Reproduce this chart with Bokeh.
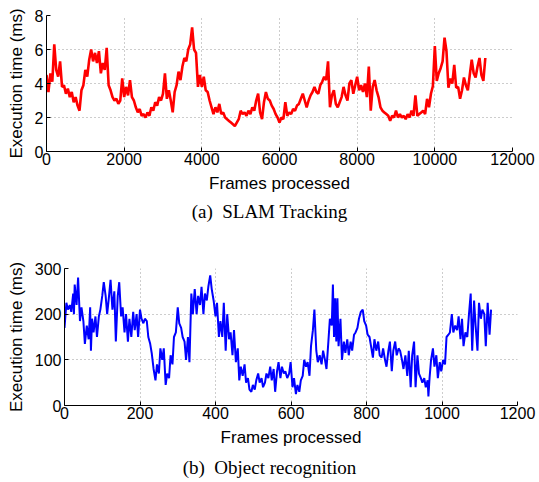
from bokeh.plotting import figure
from bokeh.models import Range1d, FixedTicker, Div
from bokeh.embed import file_html
from bokeh.resources import INLINE

# (a) SLAM tracking: execution time (ms), one reading every 50 frames
slam_ms = [
    4.5, 3.5, 4.6, 4.1, 6.3, 4.8, 4.4, 5.3, 3.8, 3.9,
    3.4, 3.7, 3.2, 3.5, 2.9, 3.2, 2.7, 2.4, 3.6, 3.9,
    4.8, 4.4, 5.4, 6.0, 5.3, 5.8, 5.2, 5.9, 4.6, 5.2,
    4.8, 6.1, 3.9, 3.6, 3.2, 3.0, 3.1, 2.8, 3.0, 4.3,
    3.2, 3.8, 3.3, 4.2, 3.2, 3.0, 2.6, 2.3, 2.5, 2.1,
    2.2, 2.0, 2.3, 2.1, 2.6, 2.4, 2.9, 2.7, 3.2, 3.0,
    3.4, 4.6, 3.1, 3.6, 3.0, 2.3, 3.5, 3.9, 4.7, 4.2,
    5.0, 5.5, 5.3, 6.0, 6.3, 7.3, 6.0, 5.8, 3.8, 4.5,
    3.8, 4.4, 3.6, 3.5, 3.0, 2.6, 2.2, 2.6, 2.3, 2.8,
    2.2, 2.3, 2.0, 1.9, 1.8, 1.7, 1.6, 1.5, 1.7, 1.9,
    2.4, 2.2, 2.3, 2.1, 2.4, 2.2, 2.6, 2.4, 3.0, 3.4,
    2.3, 1.9, 2.9, 3.5, 3.1, 3.0, 2.7, 2.5, 2.2, 2.0,
    1.7, 2.0, 1.9, 2.9, 2.1, 2.3, 2.2, 2.5, 2.4, 2.7,
    2.8, 3.1, 3.4, 3.0, 2.6, 3.0, 3.3, 3.5, 3.8, 3.5,
    3.4, 3.9, 4.1, 4.4, 4.2, 5.3, 2.6, 3.3, 3.6, 2.8,
    2.6, 2.9, 3.2, 3.8, 3.3, 3.0, 4.0, 4.2, 3.4, 3.9,
    4.4, 3.6, 3.9, 3.5, 4.0, 3.2, 5.0, 2.4, 3.8, 4.2,
    3.6, 3.2, 2.6, 2.4, 2.3, 2.2, 2.1, 1.8, 2.1, 2.0,
    2.4, 2.0, 2.2, 2.0, 2.1, 1.9, 2.2, 2.0, 2.4, 2.1,
    3.3, 2.1, 2.2, 2.3, 2.4, 2.2, 3.1, 2.6, 3.4, 3.85,
    6.2, 4.15, 4.6, 4.9, 5.3, 6.7, 5.9, 3.75, 4.3, 4.0,
    5.1, 3.75, 3.8, 3.1, 3.6, 4.35, 3.9, 3.6, 4.5, 5.4,
    4.6, 4.35, 5.0, 5.5, 4.5, 4.15, 5.5,
]
slam_frames = [50 * i for i in range(len(slam_ms))]

# (b) Object recognition: frame index and execution time (ms)
obj_frames = [
    0, 5, 9, 14, 18, 23, 25, 27, 32, 36, 41, 45, 50, 54, 59, 64, 68, 70, 73, 77,
    82, 86, 91, 95, 100, 104, 109, 113, 118, 122, 127, 132, 136, 141, 145, 150, 154, 159, 163, 168,
    172, 177, 182, 186, 191, 195, 200, 204, 209, 213, 218, 222, 227, 231, 236, 241, 245, 250, 254, 259,
    263, 268, 272, 277, 281, 286, 290, 295, 300, 304, 309, 313, 318, 322, 327, 331, 336, 340, 345, 350,
    354, 359, 363, 368, 372, 377, 381, 386, 390, 395, 400, 404, 409, 413, 418, 422, 427, 431, 436, 440,
    445, 449, 454, 459, 463, 467, 472, 477, 481, 486, 490, 495, 499, 504, 508, 513, 517, 522, 526, 531,
    535, 540, 545, 549, 554, 558, 563, 567, 572, 576, 581, 585, 590, 595, 599, 604, 608, 613, 617, 622,
    626, 631, 635, 640, 644, 649, 653, 658, 662, 667, 671, 676, 681, 685, 690, 694, 699, 703, 708, 711,
    714, 717, 720, 723, 726, 731, 735, 740, 744, 749, 753, 758, 762, 767, 771, 776, 780, 785, 790, 794,
    799, 803, 808, 812, 817, 821, 826, 831, 835, 840, 844, 849, 853, 858, 862, 867, 871, 876, 880, 885,
    889, 894, 898, 903, 908, 912, 917, 921, 926, 930, 935, 939, 944, 948, 953, 957, 962, 964, 967, 971,
    976, 980, 985, 989, 994, 998, 1003, 1008, 1012, 1017, 1021, 1026, 1030, 1035, 1040, 1044, 1049, 1053, 1057, 1062,
    1067, 1071, 1076, 1080, 1085, 1089, 1094, 1098, 1103, 1107, 1112, 1116, 1121, 1126, 1130,
]
obj_ms = [
    170, 225, 210, 220, 205, 245, 200, 265, 220, 280, 185, 215, 185, 135, 175, 145, 215, 120, 190, 160,
    195, 150, 195, 210, 240, 270, 240, 200, 240, 275, 210, 250, 140, 240, 270, 195, 215, 160, 200, 140,
    190, 150, 205, 165, 200, 150, 210, 190, 180, 190, 185, 150, 135, 115, 80, 55, 90, 70, 125, 100,
    125, 45, 70, 60, 110, 90, 150, 160, 215, 180, 170, 150, 140, 100, 150, 95, 245, 200, 255, 200,
    240, 220, 260, 200, 245, 230, 260, 285, 255, 230, 195, 225, 150, 185, 150, 225, 120, 200, 145, 160,
    110, 165, 95, 125, 55, 85, 65, 90, 50, 60, 35, 30, 45, 35, 55, 70, 50, 60, 40, 50,
    70, 60, 85, 55, 80, 30, 75, 95, 60, 85, 70, 75, 60, 70, 95, 40, 60, 25, 45, 30,
    55, 65, 100, 85, 95, 65, 130, 165, 210, 120, 95, 110, 90, 120, 100, 80, 140, 190, 175, 265,
    150, 235, 140, 235, 130, 190, 100, 140, 115, 145, 110, 140, 120, 155, 160, 170, 190, 205, 210, 185,
    175, 155, 150, 130, 105, 145, 120, 140, 110, 105, 125, 100, 85, 120, 140, 75, 120, 140, 110, 125,
    120, 100, 80, 110, 65, 120, 40, 110, 140, 40, 110, 70, 60, 50, 60, 40, 55, 20, 60, 100,
    125, 85, 110, 60, 95, 75, 100, 90, 150, 155, 160, 200, 160, 175, 165, 195, 145, 190, 130, 160,
    150, 195, 245, 120, 230, 175, 120, 225, 190, 210, 200, 130, 225, 155, 210,
]

slam_xticks = [0, 2000, 4000, 6000, 8000, 10000, 12000]
slam_yticks = [0, 2, 4, 6, 8]
obj_xticks = [0, 200, 400, 600, 800, 1000, 1200]
obj_yticks = [0, 100, 200, 300]

SANS = "Liberation Sans"
SERIF = "Liberation Serif"
W = 539


def make_panel(xs, ys, color, lw, xmax, ymax, xticks, yticks,
               height, border_left, border_right, border_top, border_bottom):
    p = figure(width=W, height=height,
               x_range=Range1d(0, xmax), y_range=Range1d(0, ymax),
               output_backend="svg", toolbar_location=None,
               min_border_left=border_left, min_border_right=border_right,
               min_border_top=border_top, min_border_bottom=border_bottom,
               background_fill_color="white", border_fill_color="white")
    p.outline_line_color = None
    p.line(xs, ys, line_color=color, line_width=lw)

    p.xaxis.ticker = FixedTicker(ticks=xticks)
    p.yaxis.ticker = FixedTicker(ticks=yticks)
    p.xaxis.axis_label = "Frames processed"
    p.yaxis.axis_label = "Execution time (ms)"
    for ax in (p.xaxis[0], p.yaxis[0]):
        ax.axis_line_color = "black"
        ax.axis_line_width = 1
        ax.major_tick_in = 4
        ax.major_tick_out = 0
        ax.major_tick_line_color = "black"
        ax.minor_tick_line_color = None
        ax.major_label_text_font = SANS
        ax.major_label_text_font_size = "16px"
        ax.major_label_text_color = "black"
        ax.axis_label_text_font = SANS
        ax.axis_label_text_font_size = "17px"
        ax.axis_label_text_font_style = "normal"
        ax.axis_label_text_color = "black"
    p.xaxis.major_label_standoff = 1
    p.xaxis.axis_label_standoff = 6
    p.yaxis.major_label_standoff = 3
    p.yaxis.axis_label_standoff = 6

    for g in (p.xgrid[0], p.ygrid[0]):
        g.grid_line_color = "#9a9a9a"
        g.grid_line_dash = "1 3"
        g.grid_line_width = 1
    return p


def make_caption(text, height):
    return Div(text=text, width=W, height=height, margin=0,
               styles={"font-family": SERIF, "font-size": "19px",
                       "line-height": f"{height}px", "text-align": "center",
                       "color": "black", "overflow": "hidden"})


p1 = make_panel(slam_frames, slam_ms, "#ff0000", 2.6, 12000, 8, slam_xticks, slam_yticks,
                200, 46, 27, 15, 49)
cap1 = make_caption("(a)&nbsp; SLAM Tracking", 24)
p2 = make_panel(obj_frames, obj_ms, "#0000ff", 2, 1200, 300, obj_xticks, obj_yticks,
                232, 64, 22, 44, 51)
cap2 = make_caption("(b)&nbsp; Object recognition", 24)

open("out.html", "w").write(file_html([p1, cap1, p2, cap2], INLINE))
